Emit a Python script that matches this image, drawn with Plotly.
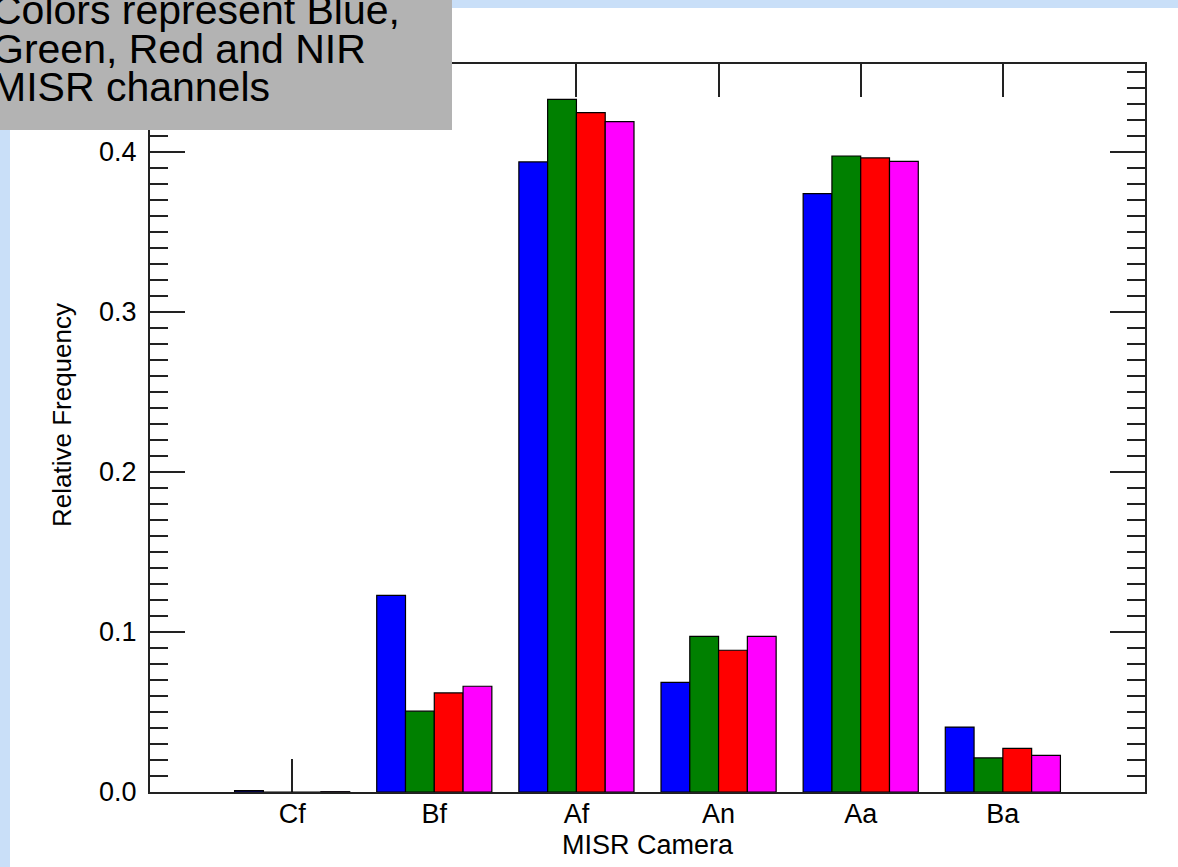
import plotly.graph_objects as go

cameras = ["Cf", "Bf", "Af", "An", "Aa", "Ba"]
blue_vals = [0.0008, 0.1229, 0.3938, 0.0685, 0.3740, 0.0406]
green_vals = [0.0, 0.0505, 0.4329, 0.0973, 0.3975, 0.0213]
red_vals = [0.0, 0.0619, 0.4246, 0.0886, 0.3963, 0.0273]
nir_vals = [0.0002, 0.0661, 0.4190, 0.0973, 0.3942, 0.0229]
series_names = ["Blue", "Green", "Red", "NIR"]
series_colors = ["#0000ff", "#008000", "#ff0000", "#ff00ff"]
y_ticks = [0.0, 0.1, 0.2, 0.3, 0.4]
y_ticktext = ["0.0", "0.1", "0.2", "0.3", "0.4"]
note_lines = ["Colors represent Blue,", "Green, Red and NIR", "MISR channels"]

W, H = 1178, 867
ML, MR, MT, MB = 150, 33, 64, 75
PW, PH = W - ML - MR, H - MT - MB


def px_x(p):
    return (p - ML) / PW


def px_y(p):
    return (H - MB - p) / PH


FONT = "Liberation Sans, Arial, Helvetica, sans-serif"
xs = list(range(len(cameras)))

fig = go.Figure()
for name, vals, col in zip(series_names, [blue_vals, green_vals, red_vals, nir_vals], series_colors):
    fig.add_trace(go.Bar(x=xs, y=vals, name=name, marker=dict(color=col, line=dict(color="#000000", width=1.2))))

axis_col = "#222222"
fig.update_layout(
    width=W, height=H,
    margin=dict(l=ML, r=MR, t=MT, b=MB, pad=0),
    paper_bgcolor="#ffffff", plot_bgcolor="#ffffff",
    barmode="group", bargap=0.19, bargroupgap=0,
    showlegend=False,
    font=dict(family=FONT, color="#000000", size=27),
    xaxis=dict(
        range=[-1, 6], tickmode="array", tickvals=xs, ticktext=cameras,
        ticks="inside", ticklen=33, tickwidth=1.5, tickcolor=axis_col,
        showline=True, linecolor=axis_col, linewidth=2, mirror="ticks",
        showgrid=False, zeroline=False, layer="below traces",
        tickfont=dict(size=27, family=FONT, color="#000000"),
        ticklabelstandoff=-3,
    ),
    yaxis=dict(
        range=[0, 0.455], tickmode="array", tickvals=y_ticks, ticktext=y_ticktext,
        ticks="inside", ticklen=35, tickwidth=2, tickcolor=axis_col,
        minor=dict(dtick=0.01, ticks="inside", ticklen=18, tickwidth=2, tickcolor=axis_col, showgrid=False),
        showline=True, linecolor=axis_col, linewidth=2, mirror="ticks",
        showgrid=False, zeroline=False,
        tickfont=dict(size=27, family=FONT, color="#000000"),
        ticklabelstandoff=6,
    ),
)

shapes = []
bg_blue = "#c9dff8"
shapes.append(dict(type="rect", xref="paper", yref="paper", x0=px_x(0), x1=px_x(W), y0=px_y(8), y1=px_y(0),
                   fillcolor=bg_blue, line=dict(width=0), layer="below"))
shapes.append(dict(type="rect", xref="paper", yref="paper", x0=px_x(0), x1=px_x(10), y0=px_y(H), y1=px_y(0),
                   fillcolor=bg_blue, line=dict(width=0), layer="below"))
shapes.append(dict(type="rect", xref="paper", yref="paper", x0=px_x(0), x1=px_x(452), y0=px_y(130), y1=px_y(0),
                   fillcolor="#b3b3b3", line=dict(width=0), layer="above"))
fig.update_layout(shapes=shapes)

ann = []
for line, cy in zip(note_lines, [10, 49, 87]):
    ann.append(dict(text=line, xref="paper", yref="paper", x=px_x(-10), y=px_y(cy), xanchor="left", yanchor="middle",
                    showarrow=False, font=dict(size=41, family=FONT, color="#000000")))
ann.append(dict(text="Relative Frequency", xref="paper", yref="paper", x=px_x(62), y=px_y(415), xanchor="center",
                yanchor="middle", textangle=-90, showarrow=False, font=dict(size=26, family=FONT, color="#000000")))
ann.append(dict(text="MISR Camera", xref="paper", yref="paper", x=px_x(648), y=px_y(845), xanchor="center",
                yanchor="middle", showarrow=False, font=dict(size=27, family=FONT, color="#000000")))
fig.update_layout(annotations=ann)

fig.write_html("out.html", config={"displayModeBar": False},
               post_script="document.body.style.margin='0';document.body.style.padding='0';")
